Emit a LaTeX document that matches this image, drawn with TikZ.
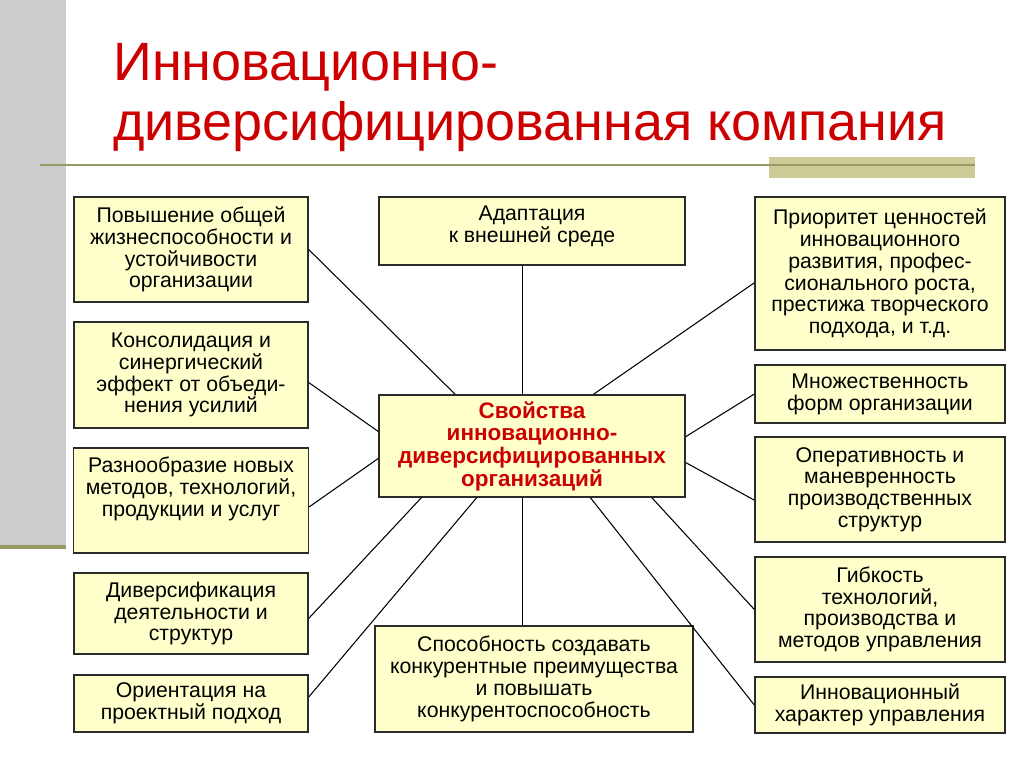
\documentclass[tikz,border=0pt]{standalone}
\usepackage{fontspec}
\setmainfont{Liberation Sans}
\usetikzlibrary{calc}
\definecolor{titlered}{HTML}{CC0000}
\definecolor{boxfill}{HTML}{FFFFCC}
\definecolor{boxline}{HTML}{2B2B2B}
\definecolor{sidegrey}{HTML}{CCCCCC}
\definecolor{ruleolive}{HTML}{999966}
\definecolor{bandolive}{HTML}{CCCC99}

\begin{document}
\begin{tikzpicture}[x=0.02cm, y=-0.02cm]

\tikzset{
  item/.style={rectangle, draw=boxline, line width=0.8pt, fill=boxfill,
    align=center, inner sep=1mm, font=\fontsize{12.1}{12.4}\selectfont},
  toppinned/.style={inner ysep=1.8mm},
  leftitem/.style={item, minimum width=4.68cm},
  rightitem/.style={item, minimum width=5.0cm},
  hub/.style={item, minimum width=6.12cm, minimum height=2.04cm,
    text=titlered, font=\bfseries\fontsize{12.8}{12.9}\selectfont},
  spoke/.style={black, line width=0.6pt},
}

\useasboundingbox (0,0) rectangle (1024,767);

% ---- slide decoration ----
\fill[sidegrey] (0,0) rectangle (66,545);
\fill[ruleolive] (0,545) rectangle (66,549);
\fill[bandolive] (769,157) rectangle (975,178);
\draw[ruleolive, line width=1.6pt] (40,165) -- (975,165);

\node[anchor=north west, align=left, text=titlered, inner sep=0pt,
      font=\fontsize{30.7}{34}\selectfont] (title) at (113,43)
  {Инновационно-\\диверсифицированная компания};

% ---- centre ----
\node[hub] (prop) at (532,446)
  {Свойства\\инновационно-\\диверсифицированных\\организаций};

% ---- left column ----
\node[leftitem, minimum height=2.1cm] (vital) at (191,249.5)
  {Повышение общей\\жизнеспособности и\\устойчивости\\организации};
\node[leftitem, minimum height=2.12cm] (synergy) at (191,375)
  {Консолидация и\\синергический\\эффект от объеди-\\нения усилий};
\node[leftitem, toppinned, minimum height=2.1cm] (variety) at (191,500.5)
  {\parbox[c][1.74cm][t]{4.5cm}{\centering Разнообразие новых\\методов, технологий,\\продукции и услуг}};
\node[leftitem, minimum height=1.62cm] (diversif) at (191,613.5)
  {Диверсификация\\деятельности и\\структур};
\node[leftitem, minimum height=1.14cm] (project) at (191,703.5)
  {Ориентация на\\проектный подход};

% ---- middle column ----
\node[item, toppinned, minimum width=6.12cm, minimum height=1.36cm] (adapt) at (532,231)
  {\parbox[c][1.0cm][t]{5.8cm}{\centering Адаптация\\к внешней среде}};
\node[item, minimum width=6.36cm, minimum height=2.12cm] (compet) at (534,679)
  {Способность создавать\\конкурентные преимущества\\и повышать\\конкурентоспособность};

% ---- right column ----
\node[rightitem, minimum height=3.06cm] (priority) at (880,273.5)
  {Приоритет ценностей\\инновационного\\развития, профес-\\сионального роста,\\престижа творческого\\подхода, и т.д.};
\node[rightitem, minimum height=1.16cm] (forms) at (880,394)
  {Множественность\\форм организации};
\node[rightitem, minimum height=2.1cm] (agility) at (880,489.5)
  {Оперативность и\\маневренность\\производственных\\структур};
\node[rightitem, minimum height=2.1cm] (flex) at (880,609.5)
  {Гибкость\\технологий,\\производства и\\методов управления};
\node[rightitem, minimum height=1.12cm] (manage) at (880,705)
  {Инновационный\\характер управления};

% ---- spokes ----
\coordinate (topjoin) at ($(prop.north west)!0.47!(prop.north east)$);
\coordinate (botjoin) at ($(prop.south west)!0.47!(prop.south east)$);
\draw[spoke] (topjoin) -- (topjoin |- adapt.south);
\draw[spoke] (botjoin) -- (botjoin |- compet.north);

\draw[spoke] (vital.east) -- ($(prop.north west)!0.25!(prop.north east)$);
\draw[spoke] ($(synergy.north east)!0.57!(synergy.south east)$) -- ($(prop.north west)!0.36!(prop.south west)$);
\draw[spoke] ($(variety.north east)!0.56!(variety.south east)$) -- ($(prop.north west)!0.62!(prop.south west)$);
\draw[spoke] ($(diversif.north east)!0.56!(diversif.south east)$) -- ($(prop.south west)!0.14!(prop.south east)$);
\draw[spoke] ($(project.north east)!0.39!(project.south east)$) -- ($(prop.south west)!0.32!(prop.south east)$);

\draw[spoke] ($(priority.north west)!0.56!(priority.south west)$) -- ($(prop.north west)!0.70!(prop.north east)$);
\draw[spoke] (forms.west) -- ($(prop.north east)!0.41!(prop.south east)$);
\draw[spoke] ($(agility.north west)!0.6!(agility.south west)$) -- ($(prop.north east)!0.66!(prop.south east)$);
\draw[spoke] (flex.west) -- ($(prop.south west)!0.89!(prop.south east)$);
\draw[spoke] (manage.west) -- ($(prop.south west)!0.69!(prop.south east)$);

\end{tikzpicture}
\end{document}
